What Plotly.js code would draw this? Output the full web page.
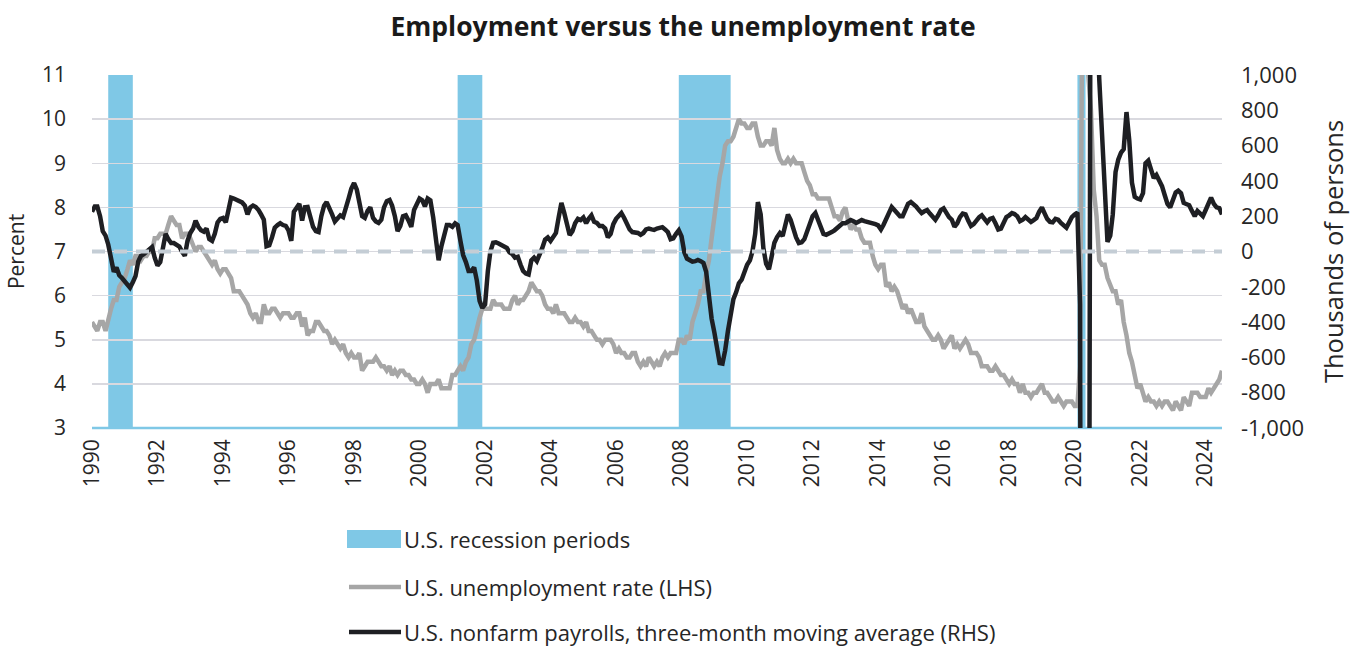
<!DOCTYPE html>
<html><head><meta charset="utf-8">
<script src="https://cdn.plot.ly/plotly-3.0.1.min.js"></script>
<style>html,body{margin:0;padding:0;background:#fff}#chart{width:1366px;height:647px}</style>
</head><body><div id="chart"></div>
<script>
const startYear = 1990;
// U.S. unemployment rate, monthly, Jan 1990 - Jul 2024 (percent)
const unemploymentRate = [
5.4,5.3,5.2,5.4,5.4,5.2,5.5,5.7,5.9,5.9,6.2,6.3,
6.4,6.6,6.8,6.7,6.9,6.9,6.8,6.9,6.9,7.0,7.0,7.3,
7.3,7.4,7.4,7.4,7.6,7.8,7.7,7.6,7.6,7.3,7.4,7.4,
7.3,7.1,7.0,7.1,7.1,7.0,6.9,6.8,6.7,6.8,6.6,6.5,
6.6,6.6,6.5,6.4,6.1,6.1,6.1,6.0,5.9,5.8,5.6,5.5,
5.6,5.4,5.4,5.8,5.6,5.6,5.7,5.7,5.6,5.5,5.6,5.6,
5.6,5.5,5.5,5.6,5.6,5.3,5.5,5.1,5.2,5.2,5.4,5.4,
5.3,5.2,5.2,5.1,4.9,5.0,4.9,4.8,4.9,4.7,4.6,4.7,
4.6,4.6,4.7,4.3,4.4,4.5,4.5,4.5,4.6,4.5,4.4,4.4,
4.3,4.4,4.2,4.3,4.2,4.3,4.3,4.2,4.2,4.1,4.1,4.0,
4.0,4.1,4.0,3.8,4.0,4.0,4.0,4.1,3.9,3.9,3.9,3.9,
4.2,4.2,4.3,4.4,4.3,4.5,4.6,4.9,5.0,5.3,5.5,5.7,
5.7,5.7,5.7,5.9,5.8,5.8,5.8,5.7,5.7,5.7,5.9,6.0,
5.8,5.9,5.9,6.0,6.1,6.3,6.2,6.1,6.1,6.0,5.8,5.7,
5.7,5.6,5.8,5.6,5.6,5.6,5.5,5.4,5.4,5.5,5.4,5.4,
5.3,5.4,5.2,5.2,5.1,5.0,5.0,4.9,5.0,5.0,5.0,4.9,
4.7,4.8,4.7,4.7,4.6,4.6,4.7,4.7,4.5,4.4,4.5,4.4,
4.6,4.5,4.4,4.5,4.4,4.6,4.7,4.6,4.7,4.7,4.7,5.0,
5.0,4.9,5.1,5.0,5.4,5.6,5.8,6.1,6.1,6.5,6.8,7.3,
7.8,8.3,8.7,9.0,9.4,9.5,9.5,9.6,9.8,10.0,9.9,9.9,
9.8,9.8,9.9,9.9,9.6,9.4,9.4,9.5,9.5,9.4,9.8,9.3,
9.1,9.0,9.0,9.1,9.0,9.1,9.0,9.0,9.0,8.8,8.6,8.5,
8.3,8.3,8.2,8.2,8.2,8.2,8.2,8.0,7.8,7.8,7.7,7.9,
8.0,7.7,7.5,7.6,7.5,7.5,7.3,7.2,7.2,7.2,6.9,6.7,
6.6,6.7,6.7,6.2,6.3,6.1,6.2,6.1,5.9,5.7,5.8,5.6,
5.7,5.5,5.4,5.4,5.6,5.3,5.2,5.1,5.0,5.0,5.1,5.0,
4.8,4.9,5.0,5.1,4.8,4.9,4.8,4.9,5.0,4.9,4.7,4.7,
4.7,4.6,4.4,4.4,4.4,4.3,4.3,4.4,4.3,4.2,4.2,4.1,
4.0,4.1,4.0,4.0,3.8,4.0,3.8,3.8,3.7,3.8,3.8,3.9,
4.0,3.8,3.8,3.7,3.6,3.6,3.7,3.6,3.5,3.6,3.6,3.6,
3.5,3.5,4.4,14.8,13.2,11.0,10.2,8.4,7.8,6.8,6.7,6.7,
6.4,6.2,6.1,6.1,5.8,5.9,5.4,5.1,4.7,4.5,4.2,3.9,
4.0,3.8,3.6,3.7,3.6,3.6,3.5,3.6,3.5,3.6,3.6,3.5,
3.4,3.6,3.5,3.4,3.7,3.6,3.5,3.8,3.8,3.8,3.7,3.7,
3.7,3.9,3.8,3.9,4.0,4.1,4.3
];
// U.S. nonfarm payrolls, three-month moving average (thousands of persons)
const payrolls3mma = [
225,255,255,200,115,90,40,-50,-115,-90,-135,-150,
-170,-195,-205,-175,-140,-55,-25,-15,0,15,25,-35,
-80,-60,30,100,70,48,48,40,28,0,-25,60,
105,130,175,140,120,112,130,70,60,100,165,185,
190,165,240,305,300,292,285,278,260,210,250,260,
252,235,210,180,30,35,80,135,150,160,150,145,
120,60,225,245,270,175,250,252,185,140,115,110,
200,260,280,250,210,170,190,205,195,240,300,355,
388,350,280,200,190,230,250,190,170,162,180,250,
285,292,260,200,115,145,200,205,175,140,235,275,
300,290,255,300,290,195,60,-50,30,90,150,150,
140,160,150,60,-20,-60,-110,-110,-90,-165,-280,-320,
-300,-110,0,50,52,45,35,30,20,-5,-15,-35,
-30,-75,-110,-125,-130,-50,-35,-55,-20,20,68,80,
60,80,105,195,275,220,160,93,115,160,185,178,
193,160,185,205,168,162,145,145,130,80,100,155,
185,207,218,190,160,125,110,108,105,95,105,125,
130,125,122,130,135,138,125,110,70,75,100,120,
85,-5,-40,-52,-58,-55,-48,-55,-65,-115,-250,-380,
-460,-570,-632,-635,-560,-450,-340,-270,-230,-180,-160,-110,
-75,-50,0,100,280,210,20,-70,-100,-30,50,82,
105,88,150,210,180,122,80,48,52,70,110,150,
200,218,180,145,100,95,100,110,120,133,140,160,
160,170,178,172,162,170,178,172,168,167,165,155,
148,125,150,190,225,252,235,215,200,200,240,270,
280,270,255,235,218,228,235,215,192,180,205,235,
245,215,195,180,140,160,195,215,210,175,145,155,
178,195,205,180,165,185,190,160,125,130,165,195,
205,218,212,200,172,180,195,180,168,178,190,225,
250,215,185,168,165,185,180,162,150,135,165,195,
210,220,-300,-7200,-6370,-4370,3030,2600,1400,980,650,330,
55,90,210,450,520,560,580,790,630,390,310,300,
295,330,500,515,470,416,433,400,370,320,270,250,
300,335,345,330,275,268,262,230,200,230,215,200,
235,275,305,270,250,246,210
];
const recessionStart = ['1990-07-01','2001-03-01','2007-12-01','2020-02-01'];
const recessionEnd   = ['1991-04-01','2001-12-01','2009-07-01','2020-05-01'];
const leftTickVals = [3,4,5,6,7,8,9,10,11];
const rightTickVals = [-1000,-800,-600,-400,-200,0,200,400,600,800,1000];
const rightTickText = ['-1,000','-800','-600','-400','-200','0','200','400','600','800','1,000'];
const seriesNames = ['U.S. recession periods','U.S. unemployment rate (LHS)','U.S. nonfarm payrolls, three-month moving average (RHS)'];
const titleText = 'Employment versus the unemployment rate';

const months = unemploymentRate.map((_, i) => {
  const y = startYear + Math.floor(i / 12), m = i % 12 + 1;
  return y + '-' + String(m).padStart(2, '0') + '-01';
});
const xStart = months[0], xEnd = months[months.length - 1];

const C_REC = '#7fc8e6', C_GRAY = '#a6a6a6', C_BLACK = '#1e1f23', C_DASH = '#c4cdd5', C_GRID = '#d9d9df';
const C_TEXT = '#262626';
const FONT = 'Open Sans, Noto Sans, sans-serif';

const traces = [
  {x: months, y: unemploymentRate, type: 'scatter', mode: 'lines', name: seriesNames[1],
   line: {color: C_GRAY, width: 4.5}, yaxis: 'y', hoverinfo: 'skip'},
  {x: months, y: payrolls3mma, type: 'scatter', mode: 'lines', name: seriesNames[2],
   line: {color: C_BLACK, width: 4.5}, yaxis: 'y2', hoverinfo: 'skip'},
  {x: [xStart, xEnd], y: [0, 0], type: 'scatter', mode: 'lines', showlegend: false,
   line: {color: C_DASH, width: 4, dash: '13px,9px'}, yaxis: 'y2', hoverinfo: 'skip'}
];

// plot area in pixels: x 92..1222, y 75..428
const L = 92, R = 1222, T = 75, B = 428;
const px = v => (v - L) / (R - L);
const py = v => (B - v) / (B - T);

const shapes = recessionStart.map((s, i) => ({
  type: 'rect', xref: 'x', yref: 'paper', x0: s, x1: recessionEnd[i], y0: 0, y1: 1,
  fillcolor: C_REC, line: {width: 0}, layer: 'between'
}));
shapes.push({type: 'line', xref: 'paper', yref: 'paper', x0: 0, x1: 1, y0: 0, y1: 0,
  line: {color: C_REC, width: 2.5}, layer: 'between'});
// legend swatches
const legendY = [539, 587, 632];
shapes.push({type: 'rect', xref: 'paper', yref: 'paper', x0: px(347), x1: px(401), y0: py(legendY[0] + 9), y1: py(legendY[0] - 9),
  fillcolor: C_REC, line: {width: 0}});
shapes.push({type: 'line', xref: 'paper', yref: 'paper', x0: px(349), x1: px(401), y0: py(legendY[1]), y1: py(legendY[1]),
  line: {color: C_GRAY, width: 4.5}});
shapes.push({type: 'line', xref: 'paper', yref: 'paper', x0: px(349), x1: px(401), y0: py(legendY[2]), y1: py(legendY[2]),
  line: {color: C_BLACK, width: 4.5}});

const annotations = seriesNames.map((n, i) => ({
  xref: 'paper', yref: 'paper', x: px(403), y: py(legendY[i]), xanchor: 'left', yanchor: 'middle',
  text: n, showarrow: false, borderpad: 0, font: {family: FONT, size: 22, color: C_TEXT}
}));

const layout = {
  width: 1366, height: 647,
  margin: {l: L, r: 1366 - R, t: T, b: 647 - B, pad: 0},
  paper_bgcolor: '#fff', plot_bgcolor: '#fff',
  showlegend: false,
  font: {family: FONT, size: 21, color: C_TEXT},
  title: {text: '<b>' + titleText + '</b>', x: 0.5, xref: 'container', y: 1 - 27/647, yref: 'container',
          yanchor: 'middle', font: {family: FONT, size: 26.5, color: '#1a1a1a'}},
  xaxis: {type: 'date', range: [xStart, xEnd], dtick: 'M24', tick0: '1990-01-01', tickformat: '%Y',
          tickangle: -90, showgrid: false, zeroline: false, showline: false, ticks: '',
          ticklabelstandoff: 6, tickfont: {family: FONT, size: 21, color: C_TEXT}},
  yaxis: {range: [3, 11], tickvals: leftTickVals, showgrid: true, gridcolor: C_GRID, gridwidth: 1.5,
          zeroline: false, showline: false, ticks: '', ticklabelstandoff: 25,
          tickfont: {family: FONT, size: 21, color: C_TEXT},
          title: {text: 'Percent', standoff: 11, font: {family: FONT, size: 21, color: C_TEXT}}},
  yaxis2: {range: [-1000, 1000], overlaying: 'y', side: 'right', tickvals: rightTickVals, ticktext: rightTickText,
           showgrid: false, zeroline: false, showline: false, ticks: '', ticklabelstandoff: 18,
           tickfont: {family: FONT, size: 22, color: C_TEXT},
           title: {text: 'Thousands of persons', standoff: 22, font: {family: FONT, size: 25.5, color: C_TEXT}}},
  shapes: shapes,
  annotations: annotations
};

Plotly.newPlot('chart', traces, layout, {displayModeBar: false, staticPlot: true});
</script></body></html>
